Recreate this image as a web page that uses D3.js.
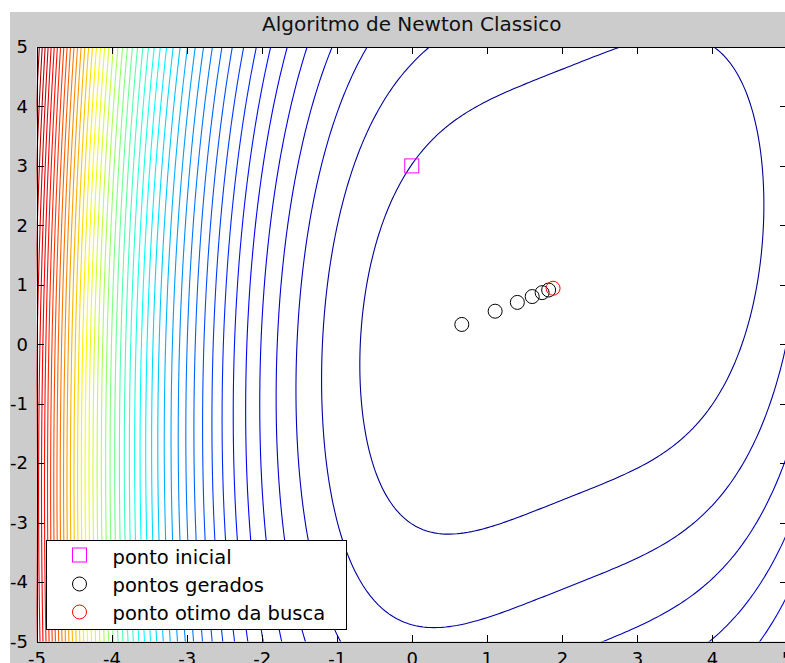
<!DOCTYPE html>
<html lang="pt">
<head>
<meta charset="UTF-8">
<title>Algoritmo de Newton Classico</title>
<script src="https://d3js.org/d3.v7.min.js"></script>
<style>
  body { margin: 0; background: #fff; }
  svg { display: block; font-family: "DejaVu Sans", sans-serif; }
  .contour { fill: none; stroke-width: 1.1; }
  .axis path, .axis line { stroke: #000; shape-rendering: crispEdges; }
  .axis text { fill: #000; font-family: "DejaVu Sans", sans-serif; font-size: 18px; }
</style>
</head>
<body>
<svg width="785" height="663"></svg>
<script>
const titleText = "Algoritmo de Newton Classico";
const xTicks = [-5, -4, -3, -2, -1, 0, 1, 2, 3, 4, 5];
const yTicks = [-5, -4, -3, -2, -1, 0, 1, 2, 3, 4, 5];
const legendLabels = ["ponto inicial", "pontos gerados", "ponto otimo da busca"];

// iterates
const startPoint = [0, 3];
const generatedPoints = [
  [0.667, 0.333], [1.111, 0.556], [1.407, 0.704],
  [1.605, 0.802], [1.737, 0.868], [1.824, 0.912]
];
const optimumPoint = [1.883, 0.942];

// objective being minimised: f(x,y) = (x-2)^4 + (x-2y)^2
const objective = (x, y) => Math.pow(x - 2, 4) + Math.pow(x - 2 * y, 2);
const zRange = [0, 2626];
const levelCount = 49;
const levels = d3.range(1, levelCount + 1)
  .map(k => zRange[0] + k * (zRange[1] - zRange[0]) / (levelCount + 1));

const svg = d3.select("svg");
const axLeft = 36.5, axRight = 787, axTop = 47, axBottom = 641.5;

const x = d3.scaleLinear().domain([-5, 5]).range([axLeft, axRight]);
const y = d3.scaleLinear().domain([-5, 5]).range([axBottom, axTop]);

// jet colormap
function jet(t) {
  const c = v => Math.round(255 * Math.max(0, Math.min(1, v)));
  return d3.rgb(c(1.5 - Math.abs(4 * t - 3)), c(1.5 - Math.abs(4 * t - 2)), c(1.5 - Math.abs(4 * t - 1))) + "";
}

// figure background
svg.append("rect").attr("x", 10).attr("y", 12).attr("width", 775).attr("height", 651).attr("fill", "#cccccc");
svg.append("rect").attr("x", axLeft).attr("y", axTop).attr("width", axRight - axLeft).attr("height", axBottom - axTop).attr("fill", "#fff");

svg.append("clipPath").attr("id", "plot-clip")
  .append("rect").attr("x", axLeft).attr("y", axTop).attr("width", axRight - axLeft).attr("height", axBottom - axTop);

// sample the field on a grid a bit larger than the axes, so grid borders fall outside the clip
const h = 0.05, g0 = -5.5, n = Math.round(11 / h) + 1;
const values = new Float64Array(n * n);
for (let j = 0; j < n; j++) {
  for (let i = 0; i < n; i++) {
    values[j * n + i] = objective(g0 + i * h, -g0 - j * h);
  }
}
const contours = d3.contours().size([n, n]).thresholds(levels)(values);

const path = d3.geoPath(d3.geoTransform({
  point(px, py) {
    this.stream.point(x(g0 + (px - 0.5) * h), y(-g0 - (py - 0.5) * h));
  }
}));

svg.append("g").attr("clip-path", "url(#plot-clip)")
  .selectAll("path")
  .data(contours)
  .join("path")
  .attr("class", "contour")
  .attr("stroke", d => jet((d.value - zRange[0]) / (zRange[1] - zRange[0])))
  .attr("d", path);

// points of the search
const pts = svg.append("g").attr("fill", "none").attr("stroke-width", 1);
pts.selectAll("circle.gen")
  .data(generatedPoints)
  .join("circle")
  .attr("class", "gen")
  .attr("cx", d => x(d[0]))
  .attr("cy", d => y(d[1]))
  .attr("r", 7)
  .attr("stroke", "#000");
pts.append("circle")
  .attr("cx", x(optimumPoint[0]))
  .attr("cy", y(optimumPoint[1]))
  .attr("r", 7)
  .attr("stroke", "#ff0000");
pts.append("rect")
  .attr("x", x(startPoint[0]) - 7)
  .attr("y", y(startPoint[1]) - 7)
  .attr("width", 14).attr("height", 14)
  .attr("stroke", "#ff00ff");

// axes, ticks pointing inward; plain hyphen for negatives like the original
const tickLabel = d => String(d);
svg.append("g").attr("class", "axis")
  .attr("transform", `translate(0,${axBottom})`)
  .call(d3.axisBottom(x).tickValues(xTicks).tickFormat(tickLabel).tickSize(-7).tickSizeOuter(0).tickPadding(10.5));
svg.append("g").attr("class", "axis")
  .attr("transform", `translate(${axLeft},0)`)
  .call(d3.axisLeft(y).tickValues(yTicks).tickFormat(tickLabel).tickSize(-7).tickSizeOuter(0).tickPadding(8.5));
svg.append("g").attr("class", "axis")
  .attr("transform", `translate(0,${axTop})`)
  .call(d3.axisTop(x).tickValues(xTicks).tickFormat("").tickSize(-7).tickSizeOuter(0));
svg.append("g").attr("class", "axis")
  .attr("transform", `translate(${axRight},0)`)
  .call(d3.axisRight(y).tickValues(yTicks).tickFormat("").tickSize(-7).tickSizeOuter(0));
svg.selectAll(".axis").attr("font-size", null).attr("font-family", null);

// legend
const legend = svg.append("g");
legend.append("rect")
  .attr("x", 46.5).attr("y", 540.5).attr("width", 300).attr("height", 89)
  .attr("fill", "#fff").attr("stroke", "#000").attr("shape-rendering", "crispEdges");
const rowY = [555, 584, 612];
const rowBase = [563.5, 591.5, 619.5];
legend.append("rect")
  .attr("x", 79.5 - 7).attr("y", rowY[0] - 7).attr("width", 14).attr("height", 14)
  .attr("fill", "none").attr("stroke", "#ff00ff");
legend.append("circle").attr("cx", 79.5).attr("cy", rowY[1]).attr("r", 7)
  .attr("fill", "none").attr("stroke", "#000");
legend.append("circle").attr("cx", 79.5).attr("cy", rowY[2]).attr("r", 7)
  .attr("fill", "none").attr("stroke", "#ff0000");
legend.selectAll("text")
  .data(legendLabels)
  .join("text")
  .attr("x", 112.5)
  .attr("y", (d, i) => rowBase[i])
  .attr("font-size", "19.5px")
  .attr("fill", "#000")
  .text(d => d);

// title
svg.append("text")
  .attr("x", (axLeft + axRight) / 2)
  .attr("y", 30.5)
  .attr("text-anchor", "middle")
  .attr("font-size", "20px")
  .attr("fill", "#111")
  .text(titleText);
</script>
</body>
</html>
